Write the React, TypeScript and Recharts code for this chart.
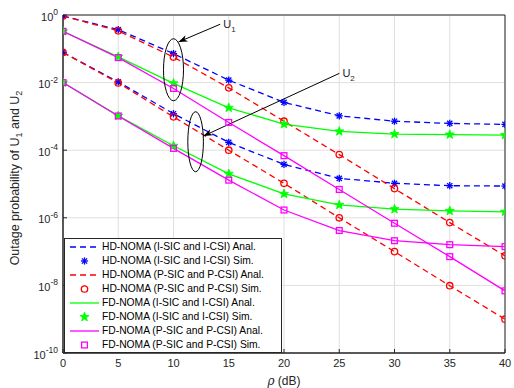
import React from 'react';
import { LineChart, Line, XAxis, YAxis, CartesianGrid, ReferenceDot, ReferenceArea, Legend } from 'recharts';

// Transmit SNR (dB)
const rho = [0, 5, 10, 15, 20, 25, 30, 35, 40];

// Outage probability of U1
const hdImperfectU1 = [0.93, 0.37, 0.072, 0.0118, 0.0026, 1.04e-3, 7.2e-4, 6.2e-4, 5.8e-4];
const hdPerfectU1 = [0.93, 0.34, 0.057, 0.007, 7.2e-4, 7.4e-5, 7.3e-6, 7.2e-7, 7.5e-8];
const fdImperfectU1 = [0.33, 0.058, 0.0095, 0.0018, 5.9e-4, 3.6e-4, 3.0e-4, 2.9e-4, 2.8e-4];
const fdPerfectU1 = [0.33, 0.055, 0.0067, 6.6e-4, 6.9e-5, 6.9e-6, 6.9e-7, 7.1e-8, 6.9e-9];

// Outage probability of U2
const hdImperfectU2 = [0.078, 0.0105, 1.2e-3, 1.7e-4, 3.8e-5, 1.47e-5, 1.05e-5, 8.9e-6, 8.7e-6];
const hdPerfectU2 = [0.078, 0.0098, 9.7e-4, 1.0e-4, 1.05e-5, 1.0e-6, 1.0e-7, 9.8e-9, 1.0e-9];
const fdImperfectU2 = [0.01, 1.04e-3, 1.35e-4, 2.0e-5, 5.1e-6, 2.4e-6, 1.8e-6, 1.6e-6, 1.5e-6];
const fdPerfectU2 = [0.01, 1.03e-3, 1.13e-4, 1.3e-5, 1.7e-6, 4.2e-7, 2.1e-7, 1.6e-7, 1.4e-7];

const xTicks = [0, 5, 10, 15, 20, 25, 30, 35, 40];
const yTicks = [1e-10, 1e-8, 1e-6, 1e-4, 1e-2, 1];
const yTickExponents = ['-10', '-8', '-6', '-4', '-2', '0'];

const legendLabels = [
  'HD-NOMA (I-SIC and I-CSI) Anal.',
  'HD-NOMA (I-SIC and I-CSI) Sim.',
  'HD-NOMA (P-SIC and P-CSI) Anal.',
  'HD-NOMA (P-SIC and P-CSI) Sim.',
  'FD-NOMA (I-SIC and I-CSI) Anal.',
  'FD-NOMA (I-SIC and I-CSI) Sim.',
  'FD-NOMA (P-SIC and P-CSI) Anal.',
  'FD-NOMA (P-SIC and P-CSI) Sim.',
];

// Annotation anchors (data space): ellipse centres for each user group
const u1Anchor = { rho: 10, p: 0.024 };
const u2Anchor = { rho: 12, p: 1.78e-4 };

const FONT = '"Liberation Sans", Arial, Helvetica, sans-serif';
const AXIS_COLOR = '#262626';

type MarkerKind = 'asterisk' | 'circle' | 'pentagram' | 'square';

const schemes: {
  id: string;
  color: string;
  dashed: boolean;
  marker: MarkerKind;
  u1: number[];
  u2: number[];
  anal: string;
  sim: string;
}[] = [
  { id: 'hdI', color: '#0000ff', dashed: true, marker: 'asterisk', u1: hdImperfectU1, u2: hdImperfectU2, anal: legendLabels[0], sim: legendLabels[1] },
  { id: 'hdP', color: '#ff0000', dashed: true, marker: 'circle', u1: hdPerfectU1, u2: hdPerfectU2, anal: legendLabels[2], sim: legendLabels[3] },
  { id: 'fdI', color: '#00ff00', dashed: false, marker: 'pentagram', u1: fdImperfectU1, u2: fdImperfectU2, anal: legendLabels[4], sim: legendLabels[5] },
  { id: 'fdP', color: '#ff00ff', dashed: false, marker: 'square', u1: fdPerfectU1, u2: fdPerfectU2, anal: legendLabels[6], sim: legendLabels[7] },
];

const data = rho.map((r, i) => {
  const row: Record<string, number> = { rho: r };
  schemes.forEach((s) => {
    row[`${s.id}U1`] = s.u1[i];
    row[`${s.id}U2`] = s.u2[i];
  });
  return row;
});

function markerShape(kind: MarkerKind, color: string, cx: number, cy: number, key?: string) {
  const sw = 1.3;
  if (kind === 'asterisk') {
    const r = 3.6;
    const d = r * 0.72;
    return (
      <g key={key} stroke={color} strokeWidth={sw} fill="none">
        <line x1={cx - r} y1={cy} x2={cx + r} y2={cy} />
        <line x1={cx} y1={cy - r} x2={cx} y2={cy + r} />
        <line x1={cx - d} y1={cy - d} x2={cx + d} y2={cy + d} />
        <line x1={cx - d} y1={cy + d} x2={cx + d} y2={cy - d} />
      </g>
    );
  }
  if (kind === 'circle') {
    return <circle key={key} cx={cx} cy={cy} r={3.2} stroke={color} strokeWidth={sw} fill="none" />;
  }
  if (kind === 'square') {
    return <rect key={key} x={cx - 2.9} y={cy - 2.9} width={5.8} height={5.8} stroke={color} strokeWidth={sw} fill="none" />;
  }
  const outer = 4.8;
  const inner = outer * 0.42;
  const pts: string[] = [];
  for (let k = 0; k < 10; k++) {
    const rad = k % 2 === 0 ? outer : inner;
    const a = -Math.PI / 2 + (k * Math.PI) / 5;
    pts.push(`${cx + rad * Math.cos(a)},${cy + rad * Math.sin(a)}`);
  }
  return <polygon key={key} points={pts.join(' ')} fill={color} stroke={color} strokeWidth={0.8} />;
}

const makeDot = (kind: MarkerKind, color: string, tag: string) => (props: any) => {
  const { cx, cy, index } = props;
  const key = `${tag}-${index}`;
  if (cx == null || cy == null || Number.isNaN(cx) || Number.isNaN(cy)) return <g key={key} />;
  return markerShape(kind, color, cx, cy, key);
};

const XTick = (props: any) => {
  const { x, y, payload } = props;
  return (
    <text x={x} y={y} textAnchor="middle" fontFamily={FONT} fontSize={11} fill={AXIS_COLOR}>
      {payload.value}
    </text>
  );
};

const YTick = (props: any) => {
  const { x, y, index } = props;
  return (
    <text x={x} y={y + 5.5} textAnchor="end" fontFamily={FONT} fontSize={11} fill={AXIS_COLOR}>
      <tspan>10</tspan>
      <tspan dy={-5.5} fontSize={8.5}>{yTickExponents[index]}</tspan>
    </text>
  );
};

const BlankTick = () => <g />;

const YLabel = (props: any) => {
  const { viewBox } = props;
  const cx = viewBox.x + 18.5;
  const cy = viewBox.y + viewBox.height / 2 - 6;
  return (
    <text
      x={cx}
      y={cy}
      transform={`rotate(-90 ${cx} ${cy})`}
      textAnchor="middle"
      fontFamily={FONT}
      fontSize={12.5}
      fill={AXIS_COLOR}
    >
      <tspan>Outage probability of U</tspan>
      <tspan dy={3} fontSize={9}>1</tspan>
      <tspan dy={-3}> and U</tspan>
      <tspan dy={3} fontSize={9}>2</tspan>
    </text>
  );
};

const XLabel = (props: any) => {
  const { viewBox } = props;
  const cx = viewBox.x + viewBox.width / 2;
  return (
    <text x={cx} y={viewBox.y + 31.5} textAnchor="middle" fontFamily={FONT} fontSize={12} fill={AXIS_COLOR}>
      <tspan fontStyle="italic" fontFamily='"DejaVu Serif", serif'>ρ</tspan>
      <tspan> (dB)</tspan>
    </text>
  );
};

function arrowHead(tx: number, ty: number, sx: number, sy: number) {
  const len = Math.hypot(tx - sx, ty - sy);
  const ux = (tx - sx) / len;
  const uy = (ty - sy) / len;
  const nx = -uy;
  const ny = ux;
  const bx = tx - ux * 9;
  const by = ty - uy * 9;
  const mx = tx - ux * 6.5;
  const my = ty - uy * 6.5;
  return `${tx},${ty} ${bx + nx * 3.4},${by + ny * 3.4} ${mx},${my} ${bx - nx * 3.4},${by - ny * 3.4}`;
}

const makeAnnotation =
  (rx: number, ry: number, tip: [number, number], start: [number, number], sub: string) =>
  (props: any) => {
    const { cx, cy } = props;
    const tx = cx + tip[0];
    const ty = cy + tip[1];
    const sx = cx + start[0];
    const sy = cy + start[1];
    return (
      <g>
        <ellipse cx={cx} cy={cy} rx={rx} ry={ry} fill="none" stroke="#000" strokeWidth={1} />
        <line x1={sx} y1={sy} x2={tx} y2={ty} stroke="#000" strokeWidth={1} />
        <polygon points={arrowHead(tx, ty, sx, sy)} fill="#000" />
        <text x={sx + 3} y={sy + 4} fontFamily={FONT} fontSize={11} fill={AXIS_COLOR}>
          <tspan>U</tspan>
          <tspan dy={3.5} fontSize={8}>{sub}</tspan>
        </text>
      </g>
    );
  };

const LegendBox = () => (
  <div
    style={{
      width: 218,
      height: 115,
      boxSizing: 'border-box',
      border: `1px solid ${AXIS_COLOR}`,
      background: '#fff',
      paddingTop: 1,
      fontFamily: FONT,
      fontSize: 10.3,
      color: '#000',
    }}
  >
    {schemes.flatMap((s) => [
      <div key={`${s.id}-a`} style={{ display: 'flex', alignItems: 'center', height: 14, whiteSpace: 'nowrap' }}>
        <svg width={37} height={14} style={{ flex: 'none' }}>
          <line
            x1={5}
            y1={7}
            x2={34}
            y2={7}
            stroke={s.color}
            strokeWidth={1.3}
            strokeDasharray={s.dashed ? '6 4' : undefined}
          />
        </svg>
        <span style={{ lineHeight: '14px' }}>{s.anal}</span>
      </div>,
      <div key={`${s.id}-s`} style={{ display: 'flex', alignItems: 'center', height: 14, whiteSpace: 'nowrap' }}>
        <svg width={37} height={14} style={{ flex: 'none' }}>
          {markerShape(s.marker, s.color, 19.5, 7)}
        </svg>
        <span style={{ lineHeight: '14px' }}>{s.sim}</span>
      </div>,
    ])}
  </div>
);

export default function App() {
  const series: React.ReactNode[] = [];
  schemes.forEach((s) => {
    ['U1', 'U2'].forEach((u) => {
      series.push(
        <Line
          key={`${s.id}${u}-anal`}
          dataKey={`${s.id}${u}`}
          type="linear"
          stroke={s.color}
          strokeWidth={1.3}
          strokeDasharray={s.dashed ? '6 4' : undefined}
          dot={false}
          activeDot={false}
          legendType="none"
          isAnimationActive={false}
        />
      );
    });
    ['U1', 'U2'].forEach((u) => {
      series.push(
        <Line
          key={`${s.id}${u}-sim`}
          dataKey={`${s.id}${u}`}
          type="linear"
          stroke="none"
          dot={makeDot(s.marker, s.color, `${s.id}${u}`)}
          activeDot={false}
          legendType="none"
          isAnimationActive={false}
        />
      );
    });
  });

  return (
    <div style={{ position: 'absolute', left: 0, top: 0, width: 514, height: 388, background: '#fff' }}>
      <LineChart width={514} height={388} data={data} margin={{ top: 15, right: 9, bottom: 0, left: 0 }}>
        <CartesianGrid stroke="#dfdfdf" strokeWidth={1} />
        <XAxis
          dataKey="rho"
          type="number"
          domain={[0, 40]}
          ticks={xTicks}
          allowDataOverflow
          height={35}
          tickSize={-4}
          tickMargin={18}
          stroke={AXIS_COLOR}
          tick={XTick}
          label={{ content: XLabel }}
        />
        <XAxis
          xAxisId="top"
          orientation="top"
          type="number"
          domain={[0, 40]}
          ticks={xTicks}
          allowDataOverflow
          height={0}
          tickSize={-4}
          stroke={AXIS_COLOR}
          tick={BlankTick}
        />
        <YAxis
          type="number"
          scale="log"
          domain={[1e-10, 1]}
          ticks={yTicks}
          allowDataOverflow
          width={63}
          tickSize={-4}
          tickMargin={9}
          stroke={AXIS_COLOR}
          tick={YTick}
          label={{ content: YLabel }}
        />
        <YAxis
          yAxisId="right"
          orientation="right"
          type="number"
          scale="log"
          domain={[1e-10, 1]}
          ticks={yTicks}
          allowDataOverflow
          width={0}
          tickSize={-4}
          stroke={AXIS_COLOR}
          tick={BlankTick}
        />
        {series}
        <ReferenceArea
          x1={0}
          x2={40}
          y1={1e-10}
          y2={1}
          ifOverflow="visible"
          fill="none"
          fillOpacity={0}
          stroke={AXIS_COLOR}
          strokeWidth={1}
        />
        <ReferenceDot
          x={u1Anchor.rho}
          y={u1Anchor.p}
          r={0}
          ifOverflow="visible"
          shape={makeAnnotation(10, 31, [5, -27.8], [46.7, -45.5], '1')}
        />
        <ReferenceDot
          x={u2Anchor.rho}
          y={u2Anchor.p}
          r={0}
          ifOverflow="visible"
          shape={makeAnnotation(7.8, 30, [7.8, -5.7], [143.8, -68.4], '2')}
        />
        <Legend
          layout="vertical"
          align="center"
          verticalAlign="middle"
          content={LegendBox}
          wrapperStyle={{ left: 64, top: 238, width: 218, height: 115 }}
        />
      </LineChart>
    </div>
  );
}
